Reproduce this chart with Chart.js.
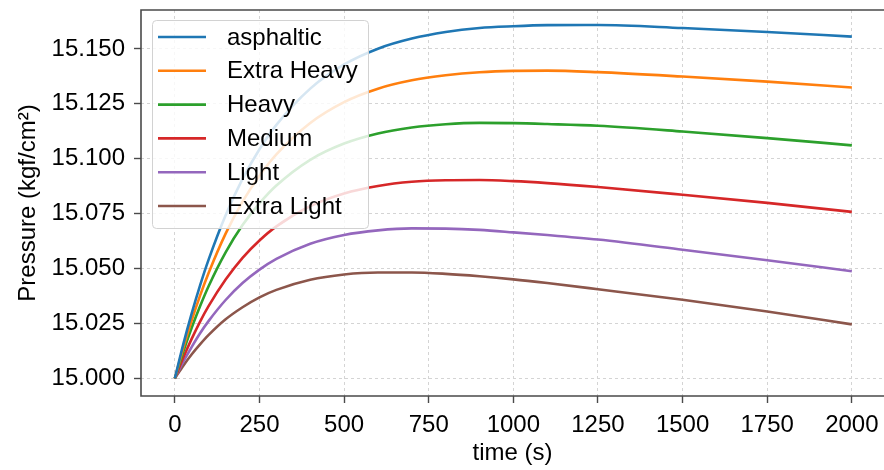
<!DOCTYPE html>
<html>
<head>
<meta charset="utf-8">
<script src="https://cdn.jsdelivr.net/npm/chart.js@4.4.1/dist/chart.umd.min.js"></script>
<style>
  html, body { margin: 0; padding: 0; background: #ffffff; }
  #chart { display: block; }
</style>
</head>
<body>
<canvas id="chart" width="884" height="470"></canvas>
<script>
// time (s)
var times = [0, 25, 50, 75, 100, 150, 200, 250, 300, 400, 500, 600, 700, 800, 900, 1000, 1100, 1250, 1500, 1750, 2000];

// pressure (kgf/cm2) per oil type
var asphaltic  = [15.0000, 15.0156, 15.0297, 15.0426, 15.0542, 15.0743, 15.0908, 15.1043, 15.1154, 15.1319, 15.1429, 15.1501, 15.1547, 15.1577, 15.1595, 15.1603, 15.1608, 15.1609, 15.1595, 15.1577, 15.1556];
var extraHeavy = [15.0000, 15.0139, 15.0265, 15.0379, 15.0481, 15.0659, 15.0805, 15.0923, 15.1020, 15.1163, 15.1258, 15.1319, 15.1357, 15.1380, 15.1394, 15.1400, 15.1401, 15.1394, 15.1374, 15.1351, 15.1324];
var heavy      = [15.0000, 15.0122, 15.0232, 15.0331, 15.0421, 15.0574, 15.0698, 15.0797, 15.0878, 15.0995, 15.1069, 15.1115, 15.1142, 15.1157, 15.1163, 15.1162, 15.1158, 15.1150, 15.1124, 15.1094, 15.1061];
var medium     = [15.0000, 15.0095, 15.0181, 15.0260, 15.0330, 15.0450, 15.0549, 15.0628, 15.0692, 15.0784, 15.0842, 15.0876, 15.0895, 15.0902, 15.0903, 15.0898, 15.0889, 15.0871, 15.0836, 15.0799, 15.0758];
var light      = [15.0000, 15.0076, 15.0144, 15.0207, 15.0262, 15.0357, 15.0434, 15.0495, 15.0544, 15.0613, 15.0653, 15.0674, 15.0683, 15.0682, 15.0676, 15.0665, 15.0653, 15.0632, 15.0586, 15.0538, 15.0488];
var extraLight = [15.0000, 15.0058, 15.0110, 15.0156, 15.0198, 15.0269, 15.0324, 15.0369, 15.0403, 15.0449, 15.0473, 15.0482, 15.0482, 15.0476, 15.0465, 15.0451, 15.0434, 15.0406, 15.0358, 15.0305, 15.0246];

var seriesNames = ["asphaltic", "Extra Heavy", "Heavy", "Medium", "Light", "Extra Light"];
var seriesValues = [asphaltic, extraHeavy, heavy, medium, light, extraLight];

var xTicks = [0, 250, 500, 750, 1000, 1250, 1500, 1750, 2000];
var yTicks = [15.000, 15.025, 15.050, 15.075, 15.100, 15.125, 15.150];

var colors = ['#1f77b4', '#ff7f0e', '#2ca02c', '#d62728', '#9467bd', '#8c564b'];
var fontFamily = "'Liberation Sans', Arial, Helvetica, sans-serif";

var datasets = [];
for (var i in seriesNames) {
    var pts = [];
    for (var j in times) {
        pts.push({ x: times[j], y: seriesValues[i][j] });
    }
    datasets.push({
        label: seriesNames[i],
        data: pts,
        borderColor: colors[i],
        backgroundColor: colors[i],
        borderWidth: 2.6,
        pointRadius: 0,
        fill: false,
        cubicInterpolationMode: 'monotone'
    });
}

// frame + matplotlib-style legend inside the plot
var framePlugin = {
    id: 'frameAndLegend',
    afterDatasetsDraw: function (chart) {
        var ctx = chart.ctx;
        var a = chart.chartArea;
        ctx.save();
        ctx.strokeStyle = '#4a4a4a';
        ctx.lineWidth = 1.6;
        ctx.beginPath();
        ctx.moveTo(a.right + 2, a.top);
        ctx.lineTo(a.left, a.top);
        ctx.lineTo(a.left, a.bottom);
        ctx.lineTo(a.right + 2, a.bottom);
        ctx.stroke();

        // legend box
        var bx = 152.5, by = 20.5, bw = 216, bh = 208, r = 4;
        ctx.beginPath();
        ctx.moveTo(bx + r, by);
        ctx.lineTo(bx + bw - r, by);
        ctx.quadraticCurveTo(bx + bw, by, bx + bw, by + r);
        ctx.lineTo(bx + bw, by + bh - r);
        ctx.quadraticCurveTo(bx + bw, by + bh, bx + bw - r, by + bh);
        ctx.lineTo(bx + r, by + bh);
        ctx.quadraticCurveTo(bx, by + bh, bx, by + bh - r);
        ctx.lineTo(bx, by + r);
        ctx.quadraticCurveTo(bx, by, bx + r, by);
        ctx.closePath();
        ctx.fillStyle = 'rgba(255,255,255,0.82)';
        ctx.fill();
        ctx.strokeStyle = '#d2d2d2';
        ctx.lineWidth = 1;
        ctx.stroke();

        ctx.font = '24px ' + fontFamily;
        ctx.textBaseline = 'middle';
        ctx.textAlign = 'left';
        for (var k = 0; k < seriesNames.length; k++) {
            var yy = 37 + k * 33.8;
            ctx.strokeStyle = colors[k];
            ctx.lineWidth = 2.6;
            ctx.beginPath();
            ctx.moveTo(158, yy);
            ctx.lineTo(206, yy);
            ctx.stroke();
            ctx.fillStyle = '#000000';
            ctx.fillText(seriesNames[k], 227, yy + 1);
        }
        ctx.restore();
    }
};

var ctx = document.getElementById('chart');

var lineGraph = new Chart(ctx, {
    type: 'line',
    data: { datasets: datasets },
    plugins: [framePlugin],
    options: {
        responsive: false,
        animation: false,
        layout: { padding: { top: 10, left: 0, right: 0, bottom: 0 } },
        plugins: {
            legend: { display: false },
            tooltip: { enabled: false }
        },
        scales: {
            x: {
                type: 'linear',
                min: -100,
                max: 2095,
                afterBuildTicks: function (scale) {
                    scale.ticks = xTicks.map(function (v) { return { value: v }; });
                },
                afterFit: function (scale) {
                    scale.height = 74;
                    scale.paddingLeft = 0;
                    scale.paddingRight = 0;
                },
                grid: {
                    color: '#d4d4d4',
                    lineWidth: 1,
                    tickLength: 7,
                    tickColor: '#4a4a4a',
                    tickWidth: 1.4
                },
                border: { display: false, dash: [3, 3] },
                ticks: {
                    color: '#000000',
                    padding: 8,
                    maxRotation: 0,
                    font: { family: fontFamily, size: 24 },
                    callback: function (v) { return String(v); }
                },
                title: {
                    display: true,
                    text: 'time (s)',
                    color: '#000000',
                    font: { family: fontFamily, size: 24 },
                    padding: { top: 0, bottom: 2 }
                }
            },
            y: {
                type: 'linear',
                min: 14.992,
                max: 15.1677,
                afterBuildTicks: function (scale) {
                    scale.ticks = yTicks.map(function (v) { return { value: v }; });
                },
                afterFit: function (scale) {
                    scale.width = 141;
                    scale.paddingTop = 0;
                    scale.paddingBottom = 0;
                },
                grid: {
                    color: '#d4d4d4',
                    lineWidth: 1,
                    tickLength: 7,
                    tickColor: '#4a4a4a',
                    tickWidth: 1.4
                },
                border: { display: false, dash: [3, 3] },
                ticks: {
                    color: '#000000',
                    padding: 9,
                    font: { family: fontFamily, size: 24 },
                    callback: function (v) { return Number(v).toFixed(3); }
                },
                title: {
                    display: true,
                    text: 'Pressure (kgf/cm²)',
                    color: '#000000',
                    font: { family: fontFamily, size: 24 },
                    padding: { top: 14, bottom: 0 }
                }
            }
        }
    }
});
</script>
</body>
</html>
